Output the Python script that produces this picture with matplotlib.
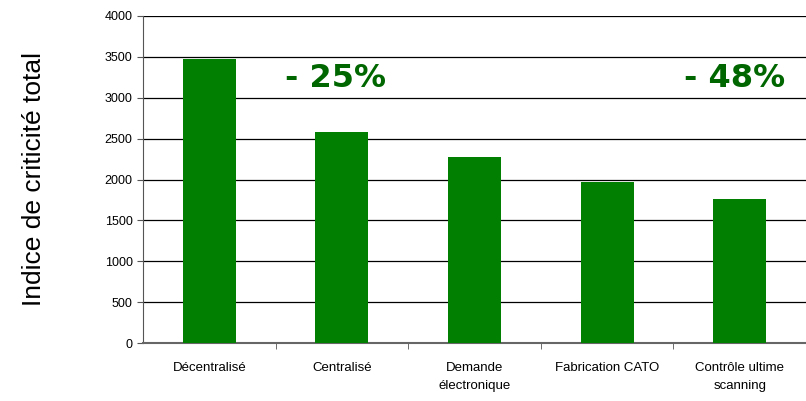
import matplotlib
matplotlib.use("Agg")
import matplotlib.pyplot as plt
from matplotlib.ticker import MultipleLocator, FixedLocator

categories = ["Décentralisé", "Centralisé", "Demande\nélectronique",
              "Fabrication CATO", "Contrôle ultime\nscanning"]
values = [3470, 2580, 2275, 1970, 1760]
ylabel = "Indice de criticité total"
annotations = [("- 25%", 0.95, 3240), ("- 48%", 3.96, 3240)]

bar_color = "#007F00"
text_color = "#006600"

plt.rcParams["font.family"] = ["Liberation Sans", "DejaVu Sans"]

fig = plt.figure(figsize=(8.06, 4.01), dpi=100)
ax = fig.add_axes([143 / 806, 1 - 343 / 401, 1 - 143 / 806, (343 - 16) / 401])

x = list(range(len(categories)))
ax.bar(x, values, width=0.4, color=bar_color, zorder=3)

ax.set_xlim(-0.5, len(categories) - 0.5)
ax.set_ylim(0, 4000)
ax.yaxis.set_major_locator(MultipleLocator(500))
ax.yaxis.grid(True, color="black", linewidth=0.9, zorder=0)

ax.set_xticks(x)
ax.set_xticklabels(categories, fontsize=9.5, linespacing=1.6)
ax.tick_params(axis="x", which="major", length=0, pad=14)
ax.xaxis.set_minor_locator(FixedLocator([i + 0.5 for i in range(len(categories) - 1)]))
ax.tick_params(axis="x", which="minor", length=4, color="#555555", direction="out")
ax.tick_params(axis="y", labelsize=9, length=4, color="#555555", direction="out")

for side in ("top", "right"):
    ax.spines[side].set_visible(False)
ax.spines["left"].set_color("#555555")
ax.spines["bottom"].set_color("#666666")
ax.spines["bottom"].set_linewidth(1.5)

ax.set_ylabel(ylabel, fontsize=19, labelpad=42)

for txt, xp, yp in annotations:
    ax.text(xp, yp, txt, color=text_color, fontsize=23, fontweight="bold",
            family="DejaVu Sans", ha="center", va="center", zorder=4)

fig.savefig("out.png", dpi=100)
